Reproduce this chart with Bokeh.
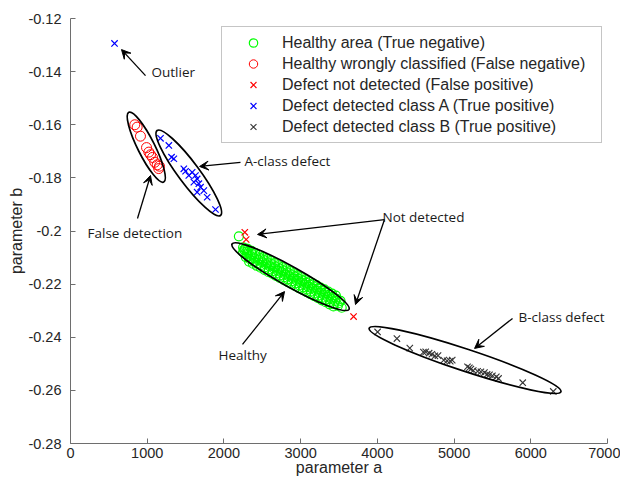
from bokeh.plotting import figure
from bokeh.models import Range1d, FixedTicker, CustomJSTickFormatter, Arrow, VeeHead, Label
from bokeh.embed import file_html
from bokeh.resources import INLINE

# ---- data ----
healthy_x = [2195, 2250, 2262, 2280, 2295,
             2250, 2270, 2285,
             2300, 2320, 2335, 2310, 2328,
             2350, 2370, 2385, 2360, 2378,
             2400, 2420, 2435, 2410, 2428,
             2450, 2470, 2485, 2460, 2478,
             2500, 2520, 2535, 2510, 2528,
             2550, 2570, 2585, 2560, 2578,
             2600, 2620, 2635, 2610, 2628,
             2650, 2670, 2685, 2660, 2678,
             2700, 2720, 2735, 2710, 2728,
             2750, 2770, 2785, 2760, 2778,
             2800, 2820, 2835, 2810, 2828,
             2850, 2870, 2885, 2860, 2878,
             2900, 2920, 2935, 2910, 2928,
             2950, 2970, 2985, 2960, 2978,
             3000, 3020, 3035, 3010, 3028,
             3050, 3070, 3085, 3060, 3078,
             3100, 3120, 3135, 3110, 3128,
             3150, 3170, 3185, 3160, 3178,
             3200, 3220, 3235, 3210, 3228,
             3250, 3270, 3285, 3260, 3278,
             3300, 3320, 3335, 3310, 3328,
             3350, 3370, 3385, 3360, 3378,
             3400, 3420, 3435, 3410, 3428,
             3450, 3470, 3485, 3460,
             3500, 3520, 3535]
healthy_y = [-0.2020, -0.2062, -0.2070, -0.2066, -0.2078,
             -0.2080, -0.2072, -0.2098,
             -0.2087, -0.2079, -0.2105, -0.2067, -0.2115,
             -0.2095, -0.2087, -0.2113, -0.2075, -0.2123,
             -0.2103, -0.2095, -0.2121, -0.2083, -0.2131,
             -0.2110, -0.2102, -0.2128, -0.2090, -0.2138,
             -0.2118, -0.2110, -0.2136, -0.2098, -0.2146,
             -0.2126, -0.2118, -0.2144, -0.2106, -0.2154,
             -0.2133, -0.2125, -0.2151, -0.2113, -0.2161,
             -0.2141, -0.2133, -0.2159, -0.2121, -0.2169,
             -0.2149, -0.2141, -0.2167, -0.2129, -0.2177,
             -0.2156, -0.2148, -0.2174, -0.2136, -0.2184,
             -0.2164, -0.2156, -0.2182, -0.2144, -0.2192,
             -0.2171, -0.2163, -0.2189, -0.2151, -0.2199,
             -0.2179, -0.2171, -0.2197, -0.2159, -0.2207,
             -0.2187, -0.2179, -0.2205, -0.2167, -0.2215,
             -0.2194, -0.2186, -0.2212, -0.2174, -0.2222,
             -0.2202, -0.2194, -0.2220, -0.2182, -0.2230,
             -0.2210, -0.2202, -0.2228, -0.2190, -0.2238,
             -0.2217, -0.2209, -0.2235, -0.2197, -0.2245,
             -0.2225, -0.2217, -0.2243, -0.2205, -0.2253,
             -0.2233, -0.2225, -0.2251, -0.2213, -0.2261,
             -0.2240, -0.2232, -0.2258, -0.2220, -0.2268,
             -0.2248, -0.2240, -0.2266, -0.2228, -0.2276,
             -0.2256, -0.2248, -0.2274, -0.2236, -0.2284,
             -0.2263, -0.2255, -0.2281, -0.2243,
             -0.2271, -0.2263, -0.2289]

false_neg_x = [838, 869, 912, 991, 1021, 1043, 1069, 1099, 1130, 1160, 1150]
false_neg_y = [-0.1600, -0.1609, -0.1643, -0.1686, -0.1703, -0.1713, -0.1723, -0.1741, -0.1751, -0.1756, -0.1765]

false_pos_x = [2272, 2290, 3690]
false_pos_y = [-0.2005, -0.2032, -0.2322]

class_a_x = [574, 1173, 1282, 1317, 1347, 1477, 1500, 1542, 1586, 1629, 1651, 1608, 1673, 1695, 1651, 1738, 1782, 1890]
class_a_y = [-0.1294, -0.1651, -0.1678, -0.1722, -0.1728, -0.1766, -0.1775, -0.1791, -0.1779, -0.1791, -0.1804, -0.1816, -0.1822, -0.1835, -0.1854, -0.1848, -0.1873, -0.1919]

class_b_x = [4003, 4255, 4423, 4600, 4630, 4675, 4711, 4750, 4791, 4865, 4909, 4950, 4976,
             5175, 5200, 5219, 5250, 5307, 5350, 5396, 5430, 5462, 5500, 5551, 5580, 5895, 6293]
class_b_y = [-0.2380, -0.2405, -0.2441, -0.2456, -0.2455, -0.2460, -0.2464, -0.2470, -0.2469, -0.2486, -0.2489, -0.2490, -0.2486,
             -0.2511, -0.2515, -0.2520, -0.2525, -0.2528, -0.2530, -0.2533, -0.2540, -0.2541, -0.2545, -0.2549, -0.2555, -0.2571, -0.2604]

series_labels = ["Healthy area (True negative)",
                 "Healthy wrongly classified (False negative)",
                 "Defect not detected (False positive)",
                 "Defect detected class A (True positive)",
                 "Defect detected class B (True positive)"]

x_ticks = [0, 1000, 2000, 3000, 4000, 5000, 6000, 7000]
y_ticks = [-0.28, -0.26, -0.24, -0.22, -0.2, -0.18, -0.16, -0.14, -0.12]

# annotation groups (cluster ellipses, in data centre + screen size)
ell_cx = [988, 1542, 2868, 5143]
ell_cy = [-0.16845, -0.17816, -0.2172, -0.24856]
ell_len = [78, 106, 134, 202]
ell_minor = [17, 21, 20, 22]
ell_angle = [-63.4, -53.3, -29.2, -18.3]

arrows = [  # x_start, y_start, x_end, y_end
    (978, -0.1415, 665, -0.1317),
    (2216, -0.1742, 1682, -0.1757),
    (873, -0.1953, 1043, -0.1791),
    (4093, -0.1957, 2438, -0.2013),
    (4093, -0.1957, 3715, -0.2277),
    (2242, -0.2427, 2790, -0.2228),
    (5762, -0.2329, 5267, -0.2442),
]
notes = [  # text, x (left), y (middle)
    ("Outlier", 1056, -0.1403),
    ("A-class defect", 2268, -0.1735),
    ("False detection", 222, -0.2006),
    ("Not detected", 4067, -0.1949),
    ("Healthy", 1929, -0.2465),
    ("B-class defect", 5840, -0.2322),
]

p = figure(width=620, height=486, x_range=Range1d(0, 7000), y_range=Range1d(-0.28, -0.12),
           output_backend="svg", toolbar_location=None,
           min_border_left=70, min_border_right=13, min_border_top=18, min_border_bottom=43)
p.outline_line_color = None
p.grid.visible = False
p.background_fill_color = "white"
p.border_fill_color = "white"

for ax in (p.xaxis[0], p.yaxis[0]):
    ax.axis_line_color = "#6e6e6e"
    ax.major_tick_line_color = "#6e6e6e"
    ax.major_tick_in = 5
    ax.major_tick_out = 0
    ax.minor_tick_line_color = None
    ax.major_label_text_font = "Liberation Sans"
    ax.major_label_text_font_size = "14.5px"
    ax.major_label_text_color = "#262626"
    ax.axis_label_text_font = "Liberation Sans"
    ax.axis_label_text_font_size = "16px"
    ax.axis_label_text_font_style = "normal"
    ax.axis_label_text_color = "#262626"

p.xaxis.major_label_standoff = 4
p.xaxis.axis_label_standoff = -2
p.yaxis.major_label_standoff = 9
p.yaxis.axis_label_standoff = 0

p.xaxis.ticker = FixedTicker(ticks=x_ticks)
p.yaxis.ticker = FixedTicker(ticks=y_ticks)
p.yaxis.formatter = CustomJSTickFormatter(code="return (Math.round(tick*100)/100).toString();")
p.xaxis.axis_label = "parameter a"
p.yaxis.axis_label = "parameter b"

p.scatter(healthy_x, healthy_y, marker="circle", size=9, fill_color=None, line_color="#00ff00",
          line_width=1.2, legend_label=series_labels[0])
p.scatter(false_neg_x, false_neg_y, marker="circle", size=10, fill_color=None, line_color="#ff0000",
          line_width=1, legend_label=series_labels[1])
p.scatter(false_pos_x, false_pos_y, marker="x", size=9, line_color="#ff0000",
          line_width=1.2, legend_label=series_labels[2])
p.scatter(class_a_x, class_a_y, marker="x", size=9, line_color="#0000ff",
          line_width=1.2, legend_label=series_labels[3])
p.scatter(class_b_x, class_b_y, marker="x", size=9, line_color="#333333",
          line_width=1.1, legend_label=series_labels[4])

p.ellipse(x=ell_cx, y=ell_cy, width=ell_len, height=ell_minor, angle=ell_angle, angle_units="deg",
          width_units="screen", height_units="screen", fill_color=None, line_color="black", line_width=1.7)

for xs, ys, xe, ye in arrows:
    p.add_layout(Arrow(end=VeeHead(size=9, fill_color="black", line_color="black"),
                       x_start=xs, y_start=ys, x_end=xe, y_end=ye,
                       line_color="black", line_width=1.3))

for txt, tx, ty in notes:
    p.add_layout(Label(x=tx, y=ty, text=txt, text_font="Open Sans", text_font_size="13.5px",
                       text_baseline="middle", text_align="left", text_color="#1a1a1a"))

lg = p.legend[0]
lg.location = (151, 300)
lg.border_line_color = "#8c8c8c"
lg.border_line_width = 1
lg.background_fill_alpha = 1
lg.padding = 5
lg.spacing = 0
lg.margin = 0
lg.glyph_width = 52
lg.glyph_height = 21
lg.label_height = 21
lg.label_width = 314
lg.label_standoff = 3
lg.label_text_font = "Liberation Sans"
lg.label_text_font_size = "16px"
lg.label_text_color = "#262626"

open("out.html", "w").write(file_html(p, INLINE))
